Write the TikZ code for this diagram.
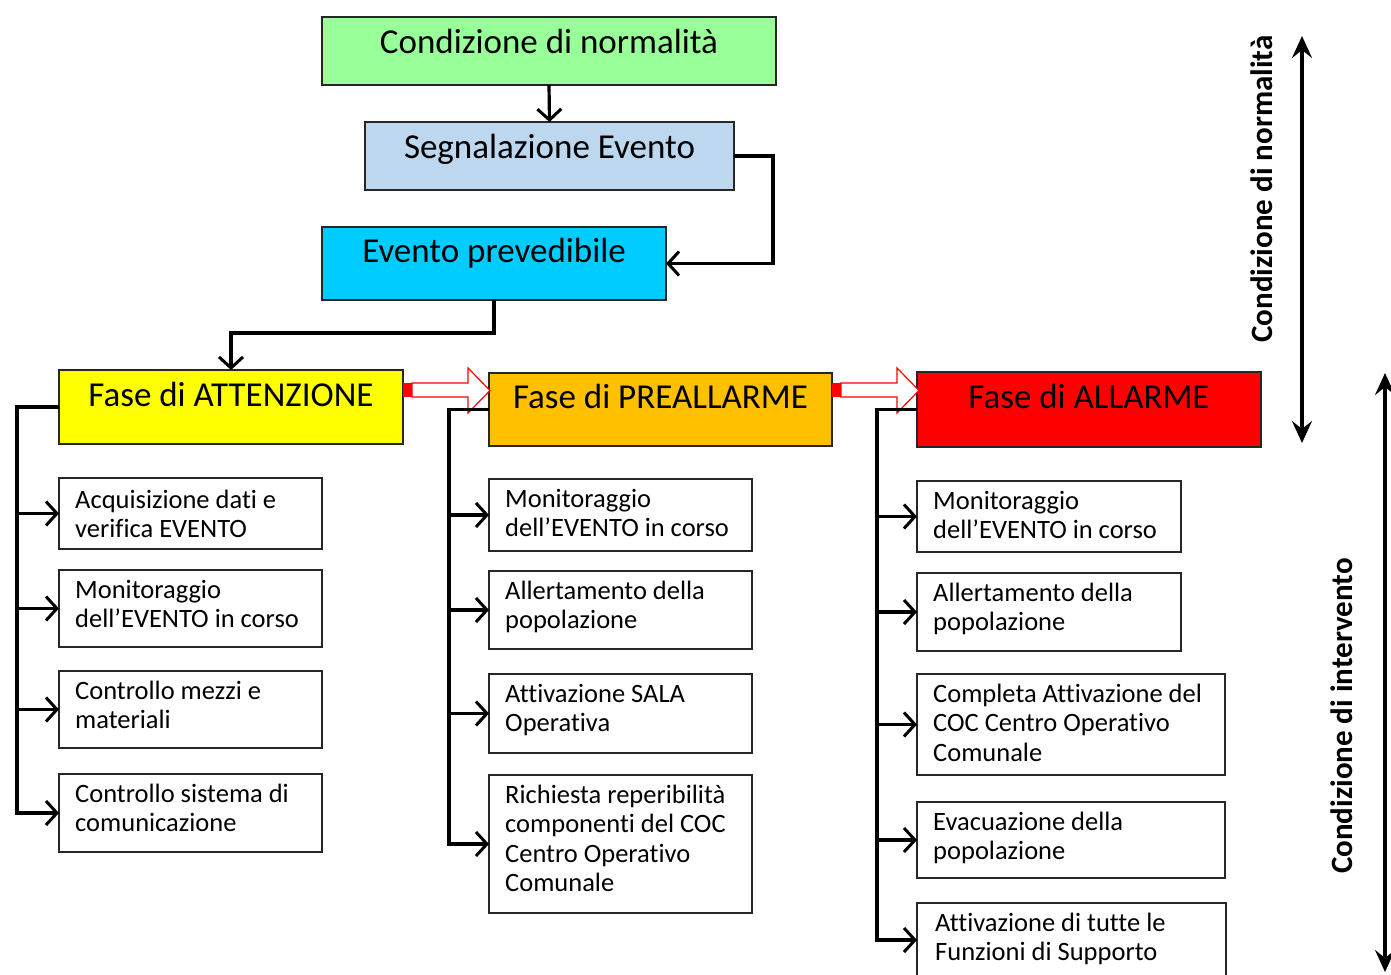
\documentclass[tikz,border=0pt]{standalone}
\usepackage{fontspec}
\setmainfont[Ligatures=NoCommon]{Carlito}
\usetikzlibrary{arrows.meta,calc}
\definecolor{cgreen}{RGB}{153,255,153}
\definecolor{cblue}{RGB}{189,215,238}
\definecolor{ccyan}{RGB}{0,204,255}
\definecolor{cyel}{RGB}{255,255,0}
\definecolor{corange}{RGB}{255,192,0}
\definecolor{cred}{RGB}{255,0,0}
\begin{document}
\begin{tikzpicture}[x=1pt,y=-1pt,
 box/.style={draw=black!85, line width=1.3pt, inner sep=0pt, outer sep=0pt, anchor=north west},
 head/.style={font=\fontsize{35}{40}\selectfont, anchor=base, inner sep=0pt},
 txt/.style={font=\fontsize{26.5}{29.5}\selectfont, align=left, anchor=north west, inner sep=0pt},
 side/.style={font=\fontsize{31}{36}\selectfont\bfseries, rotate=90, inner sep=0pt},
 conn/.style={line width=3.2pt, -{Straight Barb[length=11pt,width=24pt,line width=3pt]}},
 big/.style={line width=3.4pt, {Stealth[length=22pt,width=20pt,inset=8pt]}-{Stealth[length=22pt,width=20pt,inset=8pt]}},
 hollow/.style={draw=red, line width=1.2pt, fill=white, line join=miter},
]
\useasboundingbox (0,0) rectangle (1391,974);

% top flow
\node[box, fill=cgreen, minimum width=454pt, minimum height=68pt] (cn) at (322,17) {};
\node[head] (cnT) at (549,53) {Condizione di normalità};
\node[box, fill=cblue, minimum width=369pt, minimum height=68pt] (se) at (365,122) {};
\node[head] (seT) at (549.5,158) {Segnalazione Evento};
\node[box, fill=ccyan, minimum width=344pt, minimum height=73pt] (ep) at (322,227) {};
\node[head] (epT) at (494,262) {Evento prevedibile};

% phases
\node[box, fill=cyel, minimum width=344pt, minimum height=74pt] (att) at (59,370) {};
\node[head] (attT) at (231,406) {Fase di ATTENZIONE};
\node[box, fill=corange, minimum width=343pt, minimum height=73pt] (pre) at (489,373) {};
\node[head] (preT) at (660.5,408) {Fase di PREALLARME};
\node[box, fill=cred, minimum width=344pt, minimum height=75pt] (all) at (917,372) {};
\node[head] (allT) at (1089,408) {Fase di ALLARME};

\draw[conn] (cn.south) -- (se.north);
\draw[conn] (se.east) -- ++(39,0) |- (ep.east);
\draw[conn] (ep.south) -- ++(0,33) -| (att.north);

% hollow arrows
\fill[red] (403,383) rectangle (412,397);
\draw[hollow] (412,383) -- (468,383) -- (468,368) -- (490,390.5) -- (468,413) -- (468,397) -- (412,397) -- cycle;
\fill[red] (832,383) rectangle (841,397);
\draw[hollow] (841,383) -- (897,383) -- (897,368) -- (919,390.5) -- (897,413) -- (897,397) -- (841,397) -- cycle;

% column 1
\node[box, minimum width=263pt, minimum height=71pt] (a1) at (59,478) {};
\node[txt] (a1t) at ($(a1.north west)+(16,10)$) {\rule{0pt}{20pt}Acquisizione dati e\\verifica EVENTO};
\node[box, minimum width=263pt, minimum height=77pt] (a2) at (59,570) {};
\node[txt] (a2t) at ($(a2.north west)+(16,8)$) {\rule{0pt}{20pt}Monitoraggio\\dell’EVENTO in corso};
\node[box, minimum width=263pt, minimum height=77pt] (a3) at (59,671) {};
\node[txt] (a3t) at ($(a3.north west)+(16,8)$) {\rule{0pt}{20pt}Controllo mezzi e\\materiali};
\node[box, minimum width=263pt, minimum height=78pt] (a4) at (59,774) {};
\node[txt] (a4t) at ($(a4.north west)+(16,8)$) {\rule{0pt}{20pt}Controllo sistema di\\comunicazione};
\coordinate (sa) at (17,0);
\draw[conn] (att.west) -- ++(-42,0) |- (a4.west);
\draw[conn] (sa |- a1.west) -- (a1.west);
\draw[conn] (sa |- a2.west) -- (a2.west);
\draw[conn] (sa |- a3.west) -- (a3.west);

% column 2
\node[box, minimum width=263pt, minimum height=72pt] (b1) at (489,479) {};
\node[txt] (b1t) at ($(b1.north west)+(16,8)$) {\rule{0pt}{20pt}Monitoraggio\\dell’EVENTO in corso};
\node[box, minimum width=263pt, minimum height=78pt] (b2) at (489,571) {};
\node[txt] (b2t) at ($(b2.north west)+(16,8)$) {\rule{0pt}{20pt}Allertamento della\\popolazione};
\node[box, minimum width=263pt, minimum height=79pt] (b3) at (489,674) {};
\node[txt] (b3t) at ($(b3.north west)+(16,8)$) {\rule{0pt}{20pt}Attivazione SALA\\Operativa};
\node[box, minimum width=263pt, minimum height=138pt] (b4) at (489,775) {};
\node[txt] (b4t) at ($(b4.north west)+(16,8)$) {\rule{0pt}{20pt}Richiesta reperibilità\\componenti del COC\\Centro Operativo\\Comunale};
\coordinate (sb) at (449,0);
\draw[conn] (pre.west) -- (sb |- pre.west) |- (b4.west);
\draw[conn] (sb |- b1.west) -- (b1.west);
\draw[conn] (sb |- b2.west) -- (b2.west);
\draw[conn] (sb |- b3.west) -- (b3.west);

% column 3
\node[box, minimum width=264pt, minimum height=71pt] (c1) at (917,481) {};
\node[txt] (c1t) at ($(c1.north west)+(16,8)$) {\rule{0pt}{20pt}Monitoraggio\\dell’EVENTO in corso};
\node[box, minimum width=264pt, minimum height=78pt] (c2) at (917,573) {};
\node[txt] (c2t) at ($(c2.north west)+(16,8)$) {\rule{0pt}{20pt}Allertamento della\\popolazione};
\node[box, minimum width=308pt, minimum height=101pt] (c3) at (917,674) {};
\node[txt] (c3t) at ($(c3.north west)+(16,8)$) {\rule{0pt}{20pt}Completa Attivazione del\\COC Centro Operativo\\Comunale};
\node[box, minimum width=308pt, minimum height=76pt] (c4) at (917,802) {};
\node[txt] (c4t) at ($(c4.north west)+(16,8)$) {\rule{0pt}{20pt}Evacuazione della\\popolazione};
\node[box, minimum width=309pt, minimum height=74pt] (c5) at (917,903) {};
\node[txt] (c5t) at ($(c5.north west)+(18,8)$) {\rule{0pt}{20pt}Attivazione di tutte le\\Funzioni di Supporto};
\coordinate (sc) at (877,0);
\draw[conn] (all.west) -- (sc |- all.west) |- (c5.west);
\draw[conn] (sc |- c1.west) -- (c1.west);
\draw[conn] (sc |- c2.west) -- (c2.west);
\draw[conn] (sc |- c3.west) -- (c3.west);
\draw[conn] (sc |- c4.west) -- (c4.west);

% side arrows
\coordinate (n1) at (1302,36);
\coordinate (n2) at (1302,443);
\draw[big] (n1) -- (n2);
\node[side] (nl) at (1262,189) {Condizione di normalità};
\coordinate (i1) at (1385,373);
\coordinate (i2) at (1385,972);
\draw[big] (i1) -- (i2);
\node[side] (il) at (1342,716) {Condizione di intervento};
\end{tikzpicture}
\end{document}
